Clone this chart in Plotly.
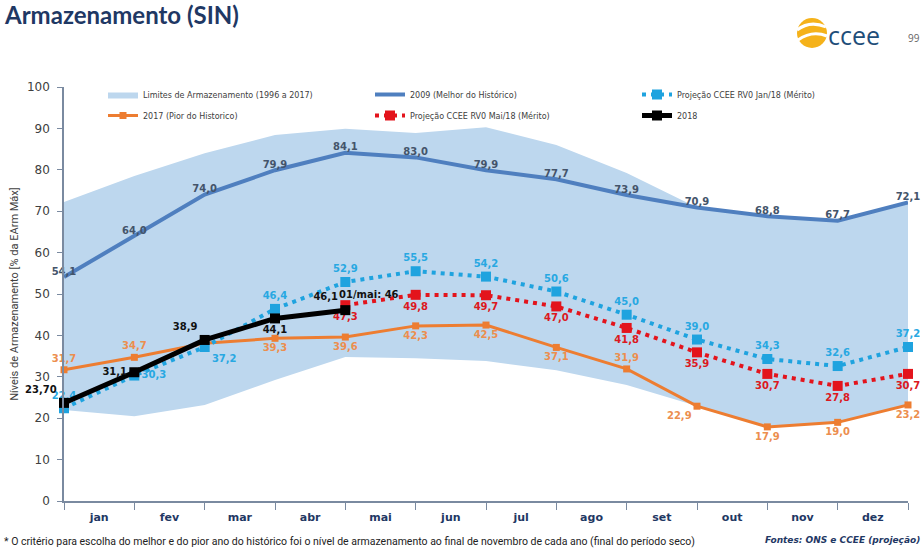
import plotly.graph_objects as go

# ---------------- data ----------------
months = ["jan", "fev", "mar", "abr", "mai", "jun", "jul", "ago", "set", "out", "nov", "dez"]
# values at month boundaries (start of jan ... end of dez) -> 13 points
band_low = [22.0, 20.5, 23.2, 29.2, 34.8, 34.5, 33.8, 31.6, 28.0, 22.9, 17.9, 19.0, 23.2]
band_high = [72.2, 78.5, 84.0, 88.4, 89.9, 88.9, 90.3, 86.0, 79.2, 70.9, 68.8, 67.7, 72.1]
v2009 = [54.1, 64.0, 74.0, 79.9, 84.1, 83.0, 79.9, 77.7, 73.9, 70.9, 68.8, 67.7, 72.1]
v2017 = [31.7, 34.7, 38.1, 39.3, 39.6, 42.3, 42.5, 37.1, 31.9, 22.9, 17.9, 19.0, 23.2]
jan18 = [22.4, 30.3, 37.2, 46.4, 52.9, 55.5, 54.2, 50.6, 45.0, 39.0, 34.3, 32.6, 37.2]
mai18 = [47.3, 49.8, 49.7, 47.0, 41.8, 35.9, 30.7, 27.8, 30.7]
v2018 = [23.70, 31.1, 38.9, 44.1, 46.1]
mai18_start = 4  # index of 01/mai
note_mai = "01/mai: 46"

W, H = 922, 552
L, R, T, B = 64, 14, 87, 51


def fmt(v, d=1):
    return f"{v:.{d}f}".replace(".", ",")


xs = list(range(len(v2009)))
x_mai = list(range(mai18_start, mai18_start + len(mai18)))
x_2018 = list(range(len(v2018)))

lbl_font = "DejaVu Sans"

fig = go.Figure()

# band
fig.add_trace(go.Scatter(x=xs, y=band_low, mode="lines", line=dict(width=0, color="#BDD7EE"),
                         showlegend=False, hoverinfo="skip"))
fig.add_trace(go.Scatter(x=xs, y=band_high, mode="lines", line=dict(width=0, color="#BDD7EE"),
                         fill="tonexty", fillcolor="#BDD7EE",
                         name="Limites de Armazenamento (1996 a 2017)", legend="legend", legendrank=1))

# 2009
fig.add_trace(go.Scatter(x=xs, y=v2009, mode="lines+text", line=dict(width=4, color="#4F7FBF"),
                         text=[fmt(v) for v in v2009], textposition="top center",
                         textfont=dict(family=lbl_font, size=10, color="#44546A", weight="bold"),
                         name="2009 (Melhor do Histórico)", legend="legend", legendrank=2))

# 2017
t2017 = [fmt(v) for v in v2017]
t2017[2] = ""
pos2017 = ["top center", "top center", "top center", "bottom center", "bottom center", "bottom center",
           "bottom center", "bottom center", "top center", "bottom left", "bottom center",
           "bottom center", "bottom center"]
fig.add_trace(go.Scatter(x=xs, y=v2017, mode="lines+markers+text",
                         line=dict(width=3, color="#ED7D31"),
                         marker=dict(symbol="square", size=7, color="#ED7D31"),
                         text=t2017, textposition=pos2017,
                         textfont=dict(family=lbl_font, size=10, color="#EC8E4E", weight="bold"),
                         name="2017 (Pior do Historico)", legend="legend2", legendrank=4))

# Jan/18 projection
posj = ["top center", "middle right", "bottom right"] + ["top center"] * 10
fig.add_trace(go.Scatter(x=xs, y=jan18, mode="lines+markers+text",
                         line=dict(width=4, color="#1FA3DF", dash="4px,5px"),
                         marker=dict(symbol="square", size=10, color="#1FA3DF"),
                         text=[fmt(v) for v in jan18], textposition=posj,
                         textfont=dict(family=lbl_font, size=10, color="#28A8E2", weight="bold"),
                         name="Projeção CCEE RV0 Jan/18 (Mérito)", legend="legend", legendrank=3))

# Mai/18 projection
fig.add_trace(go.Scatter(x=x_mai, y=mai18, mode="lines+markers+text",
                         line=dict(width=4, color="#E3141C", dash="4px,5px"),
                         marker=dict(symbol="square", size=10, color="#E3141C"),
                         text=[fmt(v) for v in mai18], textposition="bottom center",
                         textfont=dict(family=lbl_font, size=10, color="#DC1820", weight="bold"),
                         name="Projeção CCEE RV0 Mai/18 (Mérito)", legend="legend2", legendrank=5))

# 2018
t2018 = [fmt(v) for v in v2018]
t2018[0] = fmt(v2018[0], 2)
pos2018 = ["top left", "middle left", "top left", "bottom center", "top left"]
fig.add_trace(go.Scatter(x=x_2018, y=v2018, mode="lines+markers+text",
                         line=dict(width=5, color="#000000"),
                         marker=dict(symbol="square", size=10, color="#000000"),
                         text=t2018, textposition=pos2018,
                         textfont=dict(family=lbl_font, size=10, color="#111111", weight="bold"),
                         name="2018", legend="legend2", legendrank=6))

fig.update_traces(cliponaxis=False, hoverinfo="skip")

annotations = [
    dict(x=mai18_start, y=mai18[0], xref="x", yref="y", text=note_mai, showarrow=False,
         xanchor="left", yanchor="bottom", xshift=-8, yshift=3,
         font=dict(family=lbl_font, size=10, color="#111111", weight="bold")),
]


def px(xp, yp):
    return (xp - L) / (W - L - R), (H - B - yp) / (H - T - B)


def paper_ann(xp, yp, text, size, color, family, xanchor="left", weight="normal", style="normal"):
    x, y = px(xp, yp)
    annotations.append(dict(x=x, y=y, xref="paper", yref="paper", text=text, showarrow=False,
                            xanchor=xanchor, yanchor="middle",
                            font=dict(family=family, size=size, color=color, weight=weight, style=style)))


paper_ann(2, 15, "Armazenamento (SIN)", 24, "#1F3864", "Lato", weight="bold")
paper_ann(826, 35, "ccee", 25, "#1F4E79", "Open Sans")
paper_ann(906, 38, "99", 10, "#666666", "Open Sans")
paper_ann(2, 541, "* O critério para escolha do melhor e do pior ano do histórico foi o nível de armazenamento "
          "ao final de novembro de cada ano (final do período seco)", 10.5, "#222222", "Roboto")
paper_ann(922, 540, "Fontes: ONS e CCEE (projeção)", 9, "#1F3864", "DejaVu Sans", xanchor="right",
          weight="bold", style="italic")

shapes = []
x0, y0 = px(797, 48)
x1, y1 = px(827, 18)
shapes.append(dict(type="circle", xref="paper", yref="paper", x0=x0, y0=y0, x1=x1, y1=y1,
                   fillcolor="#F5B21A", line=dict(width=0)))


def qpath(p0, c, p1):
    a = px(*p0)
    b = px(*c)
    d = px(*p1)
    return f"M {a[0]},{a[1]} Q {b[0]},{b[1]} {d[0]},{d[1]}"


for (p0, c, p1) in [((797, 30), (810, 20), (826, 27)), ((798, 40), (812, 30), (827, 36))]:
    shapes.append(dict(type="path", xref="paper", yref="paper", path=qpath(p0, c, p1),
                       line=dict(color="white", width=3)))

leg_common = dict(orientation="h", xanchor="left", yanchor="top",
                  entrywidth=222, entrywidthmode="pixels", traceorder="normal",
                  font=dict(family="DejaVu Sans", size=8, color="#404040"),
                  bgcolor="rgba(0,0,0,0)", itemwidth=30)
lx, ly1 = px(103, 80)
_, ly2 = px(103, 101)

fig.update_layout(
    width=W, height=H,
    margin=dict(l=L, r=R, t=T, b=B, autoexpand=False),
    paper_bgcolor="white", plot_bgcolor="white",
    showlegend=True,
    legend=dict(x=lx, y=ly1, **leg_common),
    legend2=dict(x=lx, y=ly2, **leg_common),
    xaxis=dict(range=[0, 12], tickvals=[i + 0.5 for i in range(len(months))], ticktext=months,
               ticks="", showline=True, linecolor="#7A8AA0", linewidth=1.5, showgrid=False,
               zeroline=False, automargin=False, ticklabelstandoff=5,
               tickfont=dict(family="DejaVu Sans", size=11, color="#1F3864", weight="bold"),
               minor=dict(tickvals=xs, ticks="outside", ticklen=7, tickcolor="#7A8AA0", tickwidth=1,
                          showgrid=False)),
    yaxis=dict(range=[0, 100], dtick=10, ticks="outside", ticklen=5, tickcolor="#7A8AA0",
               showline=True, linecolor="#7A8AA0", linewidth=1.5, showgrid=False, zeroline=False,
               automargin=False, ticklabelstandoff=5,
               tickfont=dict(family="DejaVu Sans", size=12, color="#404040"),
               title=dict(text="Níveis de Armazenamento [% da EArm Máx]", standoff=6,
                          font=dict(family="Roboto", size=11, color="#404040"))),
    annotations=annotations,
    shapes=shapes,
)

fig.write_html("out.html", config={"displayModeBar": False},
               post_script="document.body.style.margin='0';document.body.style.overflow='hidden';")
